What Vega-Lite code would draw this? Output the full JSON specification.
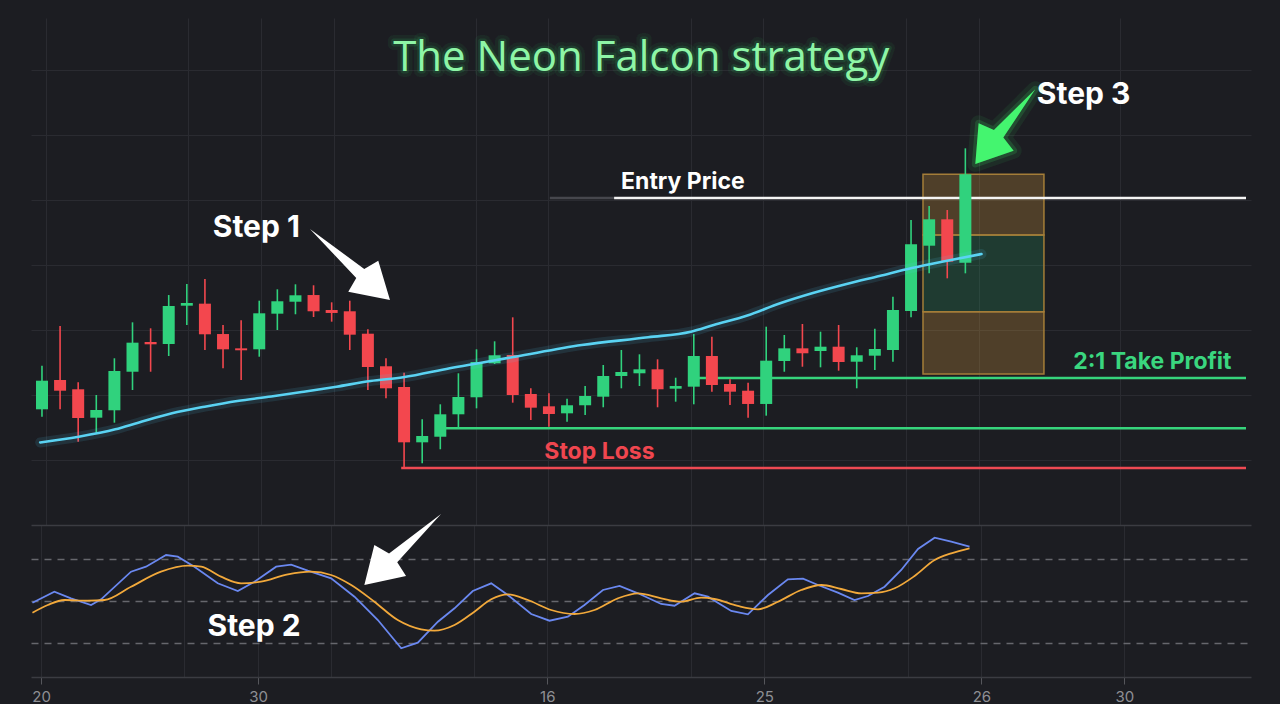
{
  "$schema": "https://vega.github.io/schema/vega-lite/v6.json",
  "background": "#1c1d22",
  "padding": {"left": 20, "top": 18, "right": 30, "bottom": 0},
  "spacing": 0,
  "bounds": "flush",
  "config": {
    "view": {"stroke": null},
    "axis": {"labels": false, "ticks": false, "domain": false, "grid": false}
  },
  "datasets": {
    "candles": [
      {"t": 0, "o": 107.80, "h": 114.51, "l": 106.66, "c": 112.20},
      {"t": 1, "o": 112.31, "h": 120.62, "l": 107.80, "c": 110.66},
      {"t": 2, "o": 110.88, "h": 111.95, "l": 102.82, "c": 106.46},
      {"t": 3, "o": 106.51, "h": 110.00, "l": 104.20, "c": 107.69},
      {"t": 4, "o": 107.65, "h": 115.65, "l": 105.74, "c": 113.69},
      {"t": 5, "o": 113.58, "h": 121.18, "l": 110.77, "c": 118.05},
      {"t": 6, "o": 118.15, "h": 120.26, "l": 113.58, "c": 117.80},
      {"t": 7, "o": 117.85, "h": 125.38, "l": 116.00, "c": 123.69},
      {"t": 8, "o": 123.74, "h": 127.08, "l": 120.77, "c": 124.15},
      {"t": 9, "o": 124.05, "h": 127.85, "l": 116.92, "c": 119.34},
      {"t": 10, "o": 119.38, "h": 120.77, "l": 114.11, "c": 117.03},
      {"t": 11, "o": 117.18, "h": 121.49, "l": 112.31, "c": 116.88},
      {"t": 12, "o": 117.03, "h": 124.51, "l": 115.89, "c": 122.57},
      {"t": 13, "o": 122.51, "h": 126.26, "l": 120.00, "c": 124.42},
      {"t": 14, "o": 124.35, "h": 127.03, "l": 122.42, "c": 125.34},
      {"t": 15, "o": 125.38, "h": 126.88, "l": 122.00, "c": 122.88},
      {"t": 16, "o": 123.08, "h": 124.26, "l": 121.28, "c": 122.62},
      {"t": 17, "o": 122.88, "h": 124.51, "l": 116.92, "c": 119.28},
      {"t": 18, "o": 119.43, "h": 120.11, "l": 110.77, "c": 114.31},
      {"t": 19, "o": 114.42, "h": 115.65, "l": 109.49, "c": 111.03},
      {"t": 20, "o": 111.23, "h": 113.43, "l": 98.80, "c": 102.72},
      {"t": 21, "o": 102.72, "h": 106.26, "l": 99.49, "c": 103.69},
      {"t": 22, "o": 103.58, "h": 108.57, "l": 101.65, "c": 107.03},
      {"t": 23, "o": 107.03, "h": 113.34, "l": 104.88, "c": 109.69},
      {"t": 24, "o": 109.65, "h": 117.03, "l": 107.95, "c": 115.08},
      {"t": 25, "o": 114.88, "h": 118.26, "l": 114.77, "c": 116.11},
      {"t": 26, "o": 116.15, "h": 121.95, "l": 108.82, "c": 110.00},
      {"t": 27, "o": 110.15, "h": 111.03, "l": 106.15, "c": 108.05},
      {"t": 28, "o": 108.26, "h": 110.26, "l": 105.12, "c": 107.08},
      {"t": 29, "o": 107.18, "h": 109.43, "l": 105.89, "c": 108.42},
      {"t": 30, "o": 108.42, "h": 111.38, "l": 106.92, "c": 109.85},
      {"t": 31, "o": 109.74, "h": 114.62, "l": 108.11, "c": 112.92},
      {"t": 32, "o": 112.92, "h": 116.92, "l": 111.03, "c": 113.54},
      {"t": 33, "o": 113.34, "h": 116.26, "l": 111.38, "c": 113.95},
      {"t": 34, "o": 113.95, "h": 115.49, "l": 108.11, "c": 110.88},
      {"t": 35, "o": 110.97, "h": 112.66, "l": 108.97, "c": 111.38},
      {"t": 36, "o": 111.28, "h": 119.38, "l": 108.57, "c": 116.00},
      {"t": 37, "o": 116.00, "h": 118.97, "l": 110.51, "c": 111.54},
      {"t": 38, "o": 111.69, "h": 112.42, "l": 108.46, "c": 110.51},
      {"t": 39, "o": 110.66, "h": 111.89, "l": 106.51, "c": 108.62},
      {"t": 40, "o": 108.62, "h": 120.51, "l": 106.82, "c": 115.28},
      {"t": 41, "o": 115.23, "h": 119.23, "l": 113.58, "c": 117.18},
      {"t": 42, "o": 117.18, "h": 120.92, "l": 114.35, "c": 116.42},
      {"t": 43, "o": 116.77, "h": 119.74, "l": 114.26, "c": 117.43},
      {"t": 44, "o": 117.43, "h": 120.77, "l": 113.74, "c": 115.08},
      {"t": 45, "o": 115.12, "h": 117.34, "l": 111.03, "c": 116.11},
      {"t": 46, "o": 116.05, "h": 120.20, "l": 113.85, "c": 117.08},
      {"t": 47, "o": 116.92, "h": 125.12, "l": 115.12, "c": 123.08},
      {"t": 48, "o": 122.92, "h": 136.92, "l": 121.95, "c": 133.18},
      {"t": 49, "o": 132.97, "h": 139.08, "l": 128.72, "c": 137.03},
      {"t": 50, "o": 137.03, "h": 138.46, "l": 127.95, "c": 130.51},
      {"t": 51, "o": 130.35, "h": 147.95, "l": 128.72, "c": 143.95}
    ],
    "ma": [
      {"t": -0.1, "p": 102.7}, {"t": 2.03, "p": 103.58}, {"t": 4.05, "p": 104.72},
      {"t": 5.32, "p": 105.74}, {"t": 7.18, "p": 107.18}, {"t": 8.99, "p": 108.2},
      {"t": 10.79, "p": 109.08}, {"t": 12.66, "p": 109.77}, {"t": 14.47, "p": 110.51},
      {"t": 16.27, "p": 111.28}, {"t": 18.14, "p": 112.15}, {"t": 19.95, "p": 112.72},
      {"t": 22.52, "p": 114.11}, {"t": 26.14, "p": 115.89}, {"t": 29.81, "p": 117.69},
      {"t": 33.48, "p": 118.88}, {"t": 35.84, "p": 119.74}, {"t": 37.1, "p": 120.77},
      {"t": 38.96, "p": 122.23}, {"t": 40.77, "p": 124.11}, {"t": 42.58, "p": 125.69},
      {"t": 44.44, "p": 127.08}, {"t": 46.25, "p": 128.31}, {"t": 48.05, "p": 129.54},
      {"t": 49.92, "p": 130.62}, {"t": 51.89, "p": 131.69}
    ],
    "levels": [
      {"level": "entry-lead", "t1": 28.05, "t2": 31.6, "p": 140.31},
      {"level": "entry", "t1": 31.6, "t2": 66.5, "p": 140.31},
      {"level": "take-profit", "t1": 36.0, "t2": 66.5, "p": 112.62},
      {"level": "support", "t1": 22.1, "t2": 66.5, "p": 104.88},
      {"level": "stop-loss", "t1": 19.84, "t2": 66.5, "p": 98.77}
    ],
    "zones": [
      {"zone": "upper", "t1": 48.66, "t2": 55.34, "p1": 134.62, "p2": 143.95},
      {"zone": "middle", "t1": 48.66, "t2": 55.34, "p1": 122.82, "p2": 134.62},
      {"zone": "lower", "t1": 48.66, "t2": 55.34, "p1": 113.23, "p2": 122.82}
    ],
    "fast": [
      {"t": -0.25, "v": 48.79}, {"t": 0.95, "v": 56.61}, {"t": 1.86, "v": 51.92}, {"t": 2.96, "v": 47.16},
      {"t": 3.51, "v": 51.21}, {"t": 5.15, "v": 70.82}, {"t": 5.97, "v": 74.37}, {"t": 7.07, "v": 82.68},
      {"t": 7.71, "v": 81.48}, {"t": 8.62, "v": 74.37}, {"t": 9.9, "v": 62.58}, {"t": 11.0, "v": 57.11},
      {"t": 11.91, "v": 63.71}, {"t": 13.1, "v": 74.37}, {"t": 13.92, "v": 75.79}, {"t": 14.83, "v": 71.53},
      {"t": 16.11, "v": 66.13}, {"t": 17.39, "v": 53.06}, {"t": 18.67, "v": 36.5}, {"t": 19.95, "v": 16.39},
      {"t": 20.86, "v": 20.37}, {"t": 21.96, "v": 35.29}, {"t": 22.87, "v": 44.81}, {"t": 23.87, "v": 57.11},
      {"t": 24.88, "v": 62.58}, {"t": 25.79, "v": 54.26}, {"t": 27.07, "v": 40.76}, {"t": 28.07, "v": 36.0},
      {"t": 29.08, "v": 38.85}, {"t": 29.99, "v": 47.16}, {"t": 31.0, "v": 57.82}, {"t": 31.91, "v": 60.66},
      {"t": 32.92, "v": 55.47}, {"t": 34.19, "v": 47.87}, {"t": 34.92, "v": 46.66}, {"t": 36.02, "v": 55.47},
      {"t": 36.75, "v": 53.06}, {"t": 38.03, "v": 42.9}, {"t": 38.94, "v": 40.55}, {"t": 40.04, "v": 54.26},
      {"t": 41.13, "v": 65.42}, {"t": 41.96, "v": 65.85}, {"t": 42.78, "v": 61.37}, {"t": 43.87, "v": 55.9},
      {"t": 44.78, "v": 50.71}, {"t": 45.52, "v": 53.55}, {"t": 46.43, "v": 60.16}, {"t": 47.34, "v": 72.03},
      {"t": 48.26, "v": 86.95}, {"t": 49.17, "v": 94.98}, {"t": 50.08, "v": 92.13}, {"t": 51.08, "v": 88.58}
    ],
    "slow": [
      {"t": -0.25, "v": 41.69}, {"t": 0.59, "v": 47.16}, {"t": 1.5, "v": 50.71}, {"t": 2.78, "v": 50.21},
      {"t": 3.69, "v": 50.71}, {"t": 5.15, "v": 60.16}, {"t": 6.79, "v": 70.82}, {"t": 8.26, "v": 75.08},
      {"t": 8.99, "v": 74.37}, {"t": 10.08, "v": 67.27}, {"t": 11.18, "v": 62.58}, {"t": 12.27, "v": 63.71},
      {"t": 13.74, "v": 68.97}, {"t": 15.01, "v": 70.82}, {"t": 16.11, "v": 68.47}, {"t": 17.21, "v": 61.37},
      {"t": 18.48, "v": 49.5}, {"t": 19.76, "v": 36.5}, {"t": 21.04, "v": 29.89}, {"t": 21.77, "v": 28.9},
      {"t": 22.87, "v": 32.95}, {"t": 23.96, "v": 42.4}, {"t": 24.88, "v": 51.21}, {"t": 25.79, "v": 54.76},
      {"t": 26.89, "v": 50.71}, {"t": 28.16, "v": 43.61}, {"t": 29.44, "v": 40.76}, {"t": 30.54, "v": 43.61},
      {"t": 31.82, "v": 51.92}, {"t": 32.92, "v": 55.47}, {"t": 34.19, "v": 51.92}, {"t": 35.29, "v": 49.5},
      {"t": 36.38, "v": 52.35}, {"t": 37.11, "v": 51.42}, {"t": 38.39, "v": 46.45}, {"t": 39.49, "v": 44.1},
      {"t": 40.59, "v": 49.5}, {"t": 41.86, "v": 57.82}, {"t": 42.96, "v": 61.37}, {"t": 44.05, "v": 58.53},
      {"t": 45.15, "v": 55.47}, {"t": 46.07, "v": 55.9}, {"t": 46.98, "v": 59.03}, {"t": 48.07, "v": 67.76},
      {"t": 49.17, "v": 79.13}, {"t": 50.08, "v": 83.89}, {"t": 51.08, "v": 87.45}
    ]
  },
  "vconcat": [
    {
      "width": 1220,
      "height": 507,
      "layer": [
        {
          "data": {"name": "zones"},
          "transform": [{"filter": "datum.zone != 'middle'"}],
          "mark": {"type": "rect", "fill": "#d39a3c", "fillOpacity": 0.28, "stroke": "#a47d38", "strokeWidth": 1.5},
          "encoding": {
            "x": {"field": "t1", "type": "quantitative", "title": null,
              "scale": {"domain": [-0.33, 66.5], "nice": false, "zero": false},
              "axis": {"grid": true, "gridColor": "#2a2b31", "gridWidth": 1, "labels": false, "ticks": false, "domain": false,
                "values": [0.22, 8.05, 12.11, 16.11, 23.95, 27.95, 35.84, 39.84, 47.73, 51.73, 59.56]}},
            "x2": {"field": "t2"},
            "y": {"field": "p1", "type": "quantitative", "title": null,
              "scale": {"domain": [90, 168], "nice": false, "zero": false},
              "axis": {"grid": true, "gridColor": "#2a2b31", "gridWidth": 1, "labels": false, "ticks": false, "domain": false,
                "values": [100, 110, 120, 130, 140, 150, 160]}},
            "y2": {"field": "p2"}
          }
        },
        {
          "data": {"name": "zones"},
          "transform": [{"filter": "datum.zone == 'middle'"}],
          "mark": {"type": "rect", "fill": "#2fd07b", "fillOpacity": 0.17, "stroke": "#a47d38", "strokeWidth": 1.5},
          "encoding": {
            "x": {"field": "t1", "type": "quantitative", "title": null},
            "x2": {"field": "t2"},
            "y": {"field": "p1", "type": "quantitative", "title": null},
            "y2": {"field": "p2"}
          }
        },
        {
          "data": {"name": "levels"},
          "mark": {"type": "rule", "strokeWidth": 2.5},
          "encoding": {
            "x": {"field": "t1", "type": "quantitative", "title": null},
            "x2": {"field": "t2"},
            "y": {"field": "p", "type": "quantitative", "title": null},
            "color": {"field": "level", "type": "nominal", "legend": null,
              "scale": {"domain": ["entry-lead", "entry", "take-profit", "support", "stop-loss"],
                        "range": ["#46474d", "#f4f4f4", "#36d47c", "#36d47c", "#ef4a53"]}}
          }
        },
        {
          "data": {"name": "candles"},
          "mark": {"type": "rule", "strokeWidth": 1.6},
          "encoding": {
            "x": {"field": "t", "type": "quantitative", "title": null},
            "y": {"field": "l", "type": "quantitative", "title": null},
            "y2": {"field": "h"},
            "color": {"condition": {"test": "datum.c >= datum.o", "value": "#30d27d"}, "value": "#f3474e"}
          }
        },
        {
          "data": {"name": "candles"},
          "mark": {"type": "bar", "size": 12},
          "encoding": {
            "x": {"field": "t", "type": "quantitative", "title": null},
            "y": {"field": "o", "type": "quantitative", "title": null},
            "y2": {"field": "c"},
            "color": {"condition": {"test": "datum.c >= datum.o", "value": "#30d27d"}, "value": "#f3474e"}
          }
        },
        {
          "data": {"name": "ma"},
          "mark": {"type": "line", "strokeWidth": 10, "color": "#4fd0f5", "opacity": 0.12, "interpolate": "monotone", "strokeCap": "round"},
          "encoding": {
            "x": {"field": "t", "type": "quantitative", "title": null},
            "y": {"field": "p", "type": "quantitative", "title": null}
          }
        },
        {
          "data": {"name": "ma"},
          "mark": {"type": "line", "strokeWidth": 2.6, "color": "#5ad3f3", "interpolate": "monotone", "strokeCap": "round"},
          "encoding": {
            "x": {"field": "t", "type": "quantitative", "title": null},
            "y": {"field": "p", "type": "quantitative", "title": null}
          }
        },
        {
          "data": {"values": [{"label": "The Neon Falcon strategy", "t": 33.1, "p": 161.9}]},
          "mark": {"type": "text", "font": "Open Sans", "fontSize": 42, "fontWeight": 400, "align": "center", "baseline": "middle",
                   "stroke": "#2fe06f", "strokeWidth": 12, "strokeOpacity": 0.06, "fill": "#2fe06f", "fillOpacity": 0.15, "strokeJoin": "round"},
          "encoding": {
            "x": {"field": "t", "type": "quantitative", "title": null},
            "y": {"field": "p", "type": "quantitative", "title": null},
            "text": {"field": "label"}
          }
        },
        {
          "data": {"values": [{"label": "The Neon Falcon strategy", "t": 33.1, "p": 161.9}]},
          "mark": {"type": "text", "font": "Open Sans", "fontSize": 42, "fontWeight": 400, "align": "center", "baseline": "middle",
                   "stroke": "#2fe06f", "strokeWidth": 5, "strokeOpacity": 0.12, "fillOpacity": 0, "strokeJoin": "round"},
          "encoding": {
            "x": {"field": "t", "type": "quantitative", "title": null},
            "y": {"field": "p", "type": "quantitative", "title": null},
            "text": {"field": "label"}
          }
        },
        {
          "data": {"values": [{"label": "The Neon Falcon strategy", "t": 33.1, "p": 161.9}]},
          "mark": {"type": "text", "font": "Open Sans", "fontSize": 42, "fontWeight": 400, "align": "center", "baseline": "middle",
                   "fill": "#8ef5a6"},
          "encoding": {
            "x": {"field": "t", "type": "quantitative", "title": null},
            "y": {"field": "p", "type": "quantitative", "title": null},
            "text": {"field": "label"}
          }
        },
        {
          "data": {"values": [
            {"label": "Step 1", "t": 11.84, "p": 135.69},
            {"label": "Step 3", "t": 57.53, "p": 156.15}
          ]},
          "mark": {"type": "text", "font": "Inter", "fontSize": 30, "fontWeight": "bold", "align": "center", "baseline": "middle", "color": "#ffffff"},
          "encoding": {
            "x": {"field": "t", "type": "quantitative", "title": null},
            "y": {"field": "p", "type": "quantitative", "title": null},
            "text": {"field": "label"}
          }
        },
        {
          "data": {"values": [{"label": "Entry Price", "t": 35.4, "p": 142.77}]},
          "mark": {"type": "text", "font": "Inter", "fontSize": 23, "fontWeight": "bold", "align": "center", "baseline": "middle", "color": "#ffffff"},
          "encoding": {
            "x": {"field": "t", "type": "quantitative", "title": null},
            "y": {"field": "p", "type": "quantitative", "title": null},
            "text": {"field": "label"}
          }
        },
        {
          "data": {"values": [{"label": "2:1 Take Profit", "t": 65.7, "p": 115.08}]},
          "mark": {"type": "text", "font": "Inter", "fontSize": 23, "fontWeight": "bold", "align": "right", "baseline": "middle", "color": "#3ad67f"},
          "encoding": {
            "x": {"field": "t", "type": "quantitative", "title": null},
            "y": {"field": "p", "type": "quantitative", "title": null},
            "text": {"field": "label"}
          }
        },
        {
          "data": {"values": [{"label": "Stop Loss", "t": 30.79, "p": 101.23}]},
          "mark": {"type": "text", "font": "Inter", "fontSize": 23, "fontWeight": "bold", "align": "center", "baseline": "middle", "color": "#f0464f"},
          "encoding": {
            "x": {"field": "t", "type": "quantitative", "title": null},
            "y": {"field": "p", "type": "quantitative", "title": null},
            "text": {"field": "label"}
          }
        },
        {
          "data": {"values": [{"t": 19.22, "p": 124.62}]},
          "mark": {"type": "point", "shape": "M0,0 L-41.7,-8.3 L-33.7,-22 L-80,-71 L-25.7,-31 L-11.7,-39.3 Z", "size": 4, "filled": true, "color": "#ffffff", "opacity": 1, "strokeWidth": 0},
          "encoding": {
            "x": {"field": "t", "type": "quantitative", "title": null},
            "y": {"field": "p", "type": "quantitative", "title": null}
          }
        },
        {
          "data": {"values": [{"t": 51.55, "p": 145.54}]},
          "mark": {"type": "point", "shape": "M0,0 L38.3,-13.3 L28,-26.4 L60,-74.7 L18.6,-33.9 L3.3,-40.7 Z", "size": 4, "filled": true,
                   "fill": "#3ef26c", "fillOpacity": 0.2, "stroke": "#3ef26c", "strokeWidth": 16, "strokeOpacity": 0.08, "strokeJoin": "round"},
          "encoding": {
            "x": {"field": "t", "type": "quantitative", "title": null},
            "y": {"field": "p", "type": "quantitative", "title": null}
          }
        },
        {
          "data": {"values": [{"t": 51.55, "p": 145.54}]},
          "mark": {"type": "point", "shape": "M0,0 L38.3,-13.3 L28,-26.4 L60,-74.7 L18.6,-33.9 L3.3,-40.7 Z", "size": 4, "filled": true,
                   "fillOpacity": 0, "stroke": "#3ef26c", "strokeWidth": 7, "strokeOpacity": 0.16, "strokeJoin": "round"},
          "encoding": {
            "x": {"field": "t", "type": "quantitative", "title": null},
            "y": {"field": "p", "type": "quantitative", "title": null}
          }
        },
        {
          "data": {"values": [{"t": 51.55, "p": 145.54}]},
          "mark": {"type": "point", "shape": "M0,0 L38.3,-13.3 L28,-26.4 L60,-74.7 L18.6,-33.9 L3.3,-40.7 Z", "size": 4, "filled": true, "color": "#44f56f", "opacity": 1, "strokeWidth": 0},
          "encoding": {
            "x": {"field": "t", "type": "quantitative", "title": null},
            "y": {"field": "p", "type": "quantitative", "title": null}
          }
        }
      ]
    },
    {
      "width": 1220,
      "height": 152,
      "layer": [
        {
          "data": {"name": "fast"},
          "mark": {"type": "line", "strokeWidth": 1.8, "color": "#6a88f0", "interpolate": "linear"},
          "encoding": {
            "x": {"field": "t", "type": "quantitative", "title": null,
              "scale": {"domain": [-0.33, 66.5], "nice": false, "zero": false},
              "axis": {"grid": true, "gridColor": "#2a2b31", "gridWidth": 1,
                "values": [0.22, 8.05, 12.11, 16.11, 23.95, 27.95, 35.84, 39.84, 47.73, 51.73, 59.56],
                "domain": true, "domainColor": "#3b3c42", "domainWidth": 1.5,
                "labels": true, "labelOverlap": false, "labelFlush": false,
                "labelExpr": "datum.value == 0.22 ? '20' : datum.value == 12.11 ? '30' : datum.value == 27.95 ? '16' : datum.value == 39.84 ? '25' : datum.value == 51.73 ? '26' : datum.value == 59.56 ? '30' : ''",
                "labelColor": "#8e8f94", "labelFont": "Inter", "labelFontSize": 15, "labelPadding": 5,
                "ticks": true, "tickSize": 7, "tickColor": "#55565b", "tickWidth": 1,
                "tickOpacity": {"condition": {"test": "datum.value == 0.22 || datum.value == 12.11 || datum.value == 27.95 || datum.value == 39.84 || datum.value == 51.73 || datum.value == 59.56", "value": 1}, "value": 0}}},
            "y": {"field": "v", "type": "quantitative", "title": null,
              "scale": {"domain": [-4, 104], "nice": false, "zero": false},
              "axis": {"grid": true, "values": [20, 50, 80, 104], "gridWidth": 1.5,
                "gridColor": {"condition": {"test": "datum.value > 100", "value": "#3b3c42"}, "value": "#66676d"},
                "gridDash": {"condition": {"test": "datum.value > 100", "value": []}, "value": [7, 6]},
                "labels": false, "ticks": false, "domain": false}}
          }
        },
        {
          "data": {"name": "slow"},
          "mark": {"type": "line", "strokeWidth": 1.8, "color": "#f2a93b", "interpolate": "monotone"},
          "encoding": {
            "x": {"field": "t", "type": "quantitative", "title": null},
            "y": {"field": "v", "type": "quantitative", "title": null}
          }
        },
        {
          "data": {"values": [{"label": "Step 2", "t": 11.89, "v": 31.53}]},
          "mark": {"type": "text", "font": "Inter", "fontSize": 30, "fontWeight": "bold", "align": "center", "baseline": "middle", "color": "#ffffff"},
          "encoding": {
            "x": {"field": "t", "type": "quantitative", "title": null},
            "y": {"field": "v", "type": "quantitative", "title": null},
            "text": {"field": "label"}
          }
        },
        {
          "data": {"values": [{"t": 17.93, "v": 61.37}]},
          "mark": {"type": "point", "shape": "M0,0 L41.7,-9 L32.9,-22.8 L76.7,-71 L24.7,-31.6 L10,-40 Z", "size": 4, "filled": true, "color": "#ffffff", "opacity": 1, "strokeWidth": 0},
          "encoding": {
            "x": {"field": "t", "type": "quantitative", "title": null},
            "y": {"field": "v", "type": "quantitative", "title": null}
          }
        }
      ]
    }
  ]
}
